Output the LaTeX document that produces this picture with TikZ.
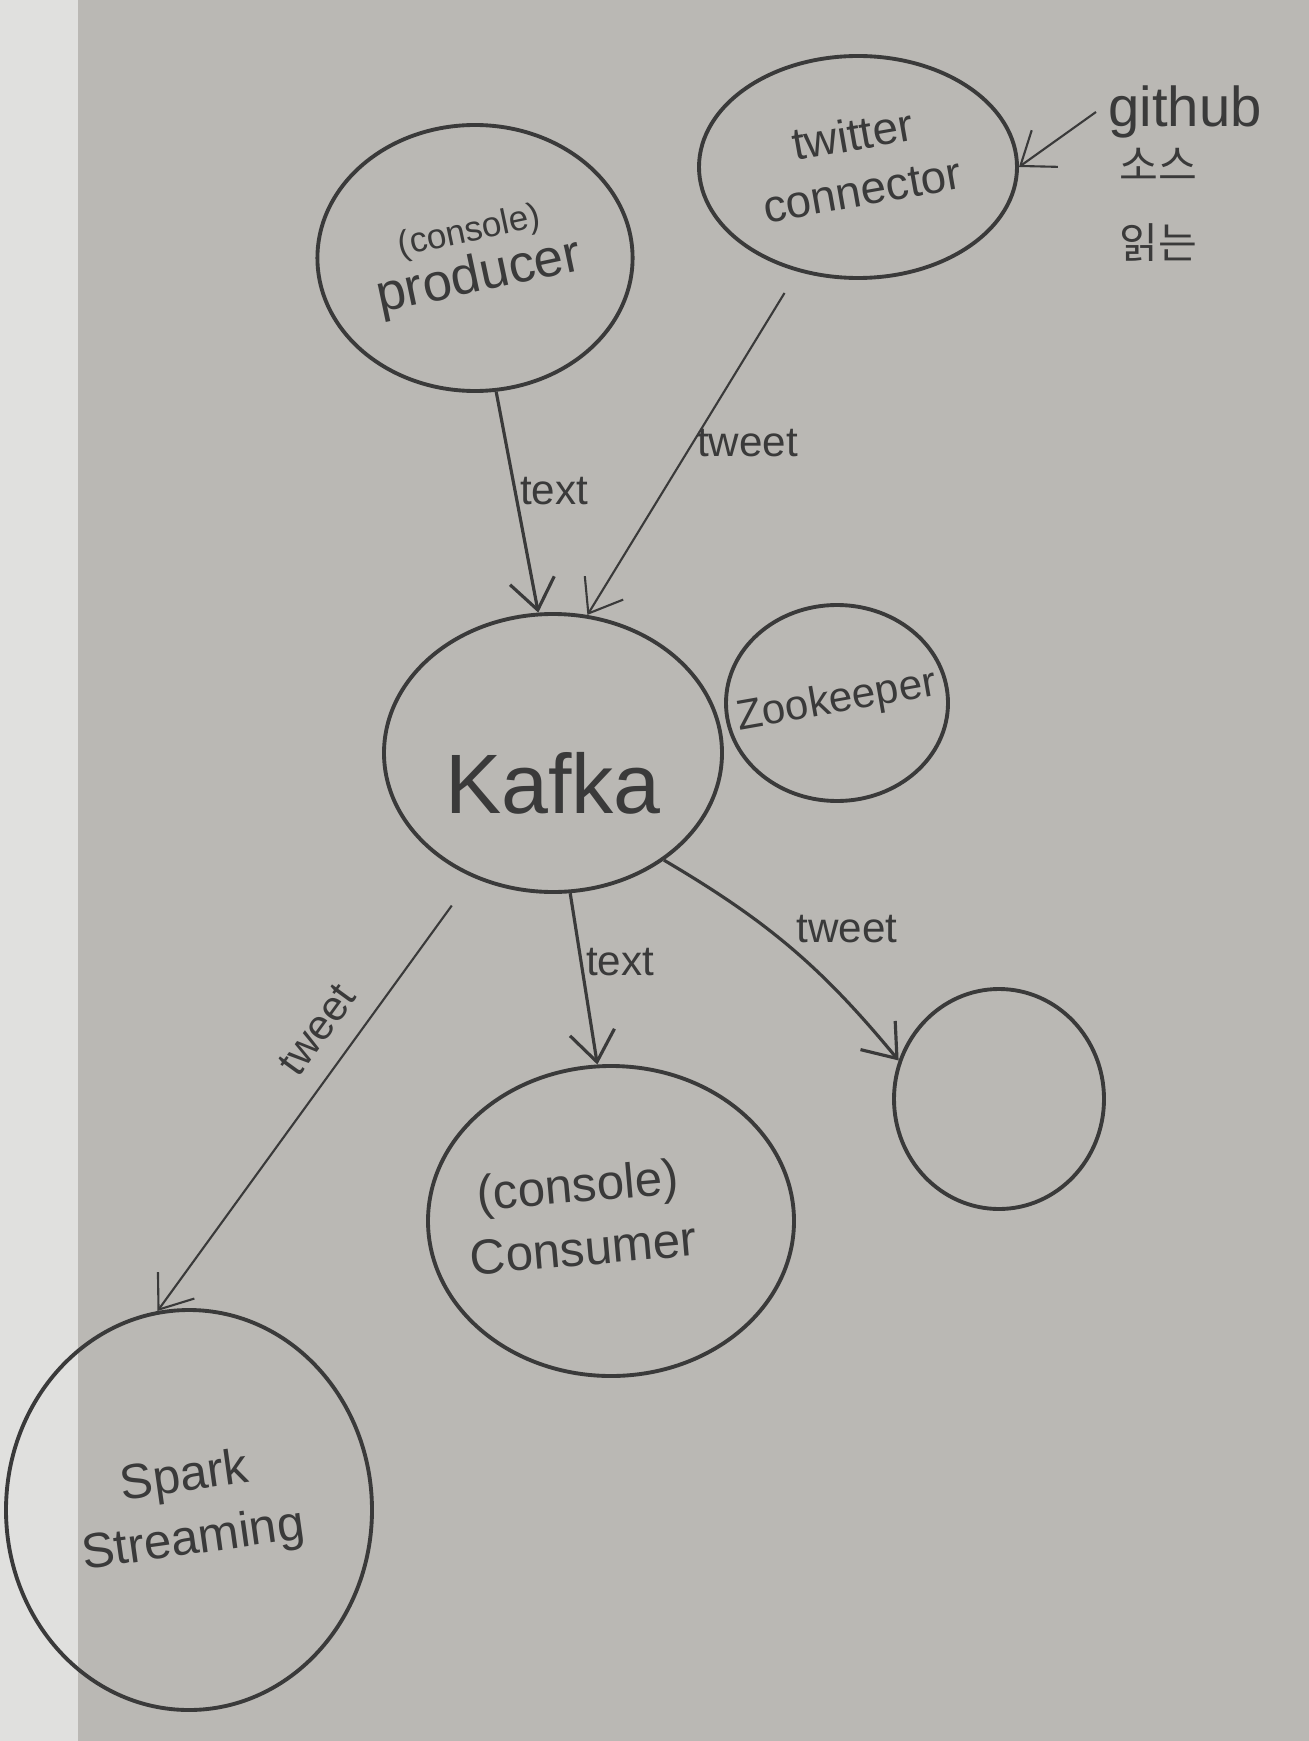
\documentclass[tikz,border=0pt]{standalone}
\usepackage{fontspec}
\setmainfont{Liberation Sans}
\newfontfamily\krfont{Noto Sans CJK KR}
\usetikzlibrary{shapes.geometric,arrows.meta}
\definecolor{board}{RGB}{186,184,180}
\definecolor{boardedge}{RGB}{224,224,222}
\definecolor{ink}{RGB}{58,58,58}
\newcommand{\tilted}[3]{\rotatebox{#1}{#2\begin{tabular}{@{}c@{}}#3\end{tabular}}}
\tikzset{
  blob/.style={ellipse,draw=ink,line width=1.1pt,text=ink,inner sep=0pt},
  flow/.style={-{Straight Barb[length=3mm,width=4.5mm]},draw=ink,line width=0.9pt},
  thinflow/.style={flow,line width=0.6pt},
  flowlabel/.style={text=ink,font=\fontsize{12}{13}\selectfont,inner sep=1pt}
}
\begin{document}
\begin{tikzpicture}
  \useasboundingbox (0,0) rectangle (13.09,-17.41);
  \fill[board] (0,0) rectangle (13.09,-17.41);
  \fill[boardedge] (0,0) rectangle (0.78,-17.41);
  % boxes
  \node[blob,minimum width=2.84cm,minimum height=2.66cm] (producer) at (4.75,-2.58)
    {\tilted{12}{}{\fontsize{10}{13}\selectfont(console)\\\fontsize{15}{17}\selectfont producer}};
  \node[blob,minimum width=3.18cm,minimum height=2.22cm] (twitter) at (8.58,-1.67)
    {\tilted{10}{\fontsize{13}{16}\selectfont}{twitter\\connector}};
  \node[text=ink,font=\fontsize{16}{19}\selectfont] (github) at (11.85,-1.12) {github};
  \node[text=ink,font=\fontsize{12}{22}\krfont,align=center] (source) at (11.58,-2.05) {소스\\읽는};
  \node[blob,minimum width=3.38cm,minimum height=2.78cm] (kafka) at (5.53,-7.53)
    {\fontsize{24}{26}\selectfont\raisebox{-0.3cm}[\height][\depth]{Kafka}};
  \node[blob,inner sep=-0.45cm,minimum width=2.22cm,minimum height=1.96cm] (zookeeper) at (8.37,-7.03)
    {\tilted{10}{\fontsize{12}{14}\selectfont}{Zookeeper}};
  \node[blob,minimum width=3.66cm,minimum height=3.1cm] (consumer) at (6.11,-12.21)
    {\makebox[0pt]{\tilted{5}{\fontsize{14}{18}\selectfont}{(console)\\Consumer}\hspace*{0.6cm}}};
  \node[blob,minimum width=2.1cm,minimum height=2.2cm] (sink) at (9.99,-10.99) {};
  \node[blob,minimum width=3.66cm,minimum height=4.0cm] (spark) at (1.89,-15.1)
    {\tilted{8}{\fontsize{14}{18}\selectfont}{Spark\\Streaming}};
  % arrows
  \draw[thinflow] (github.west) -- (twitter.east);
  \draw[flow] (producer.-81) -- node[flowlabel,right,pos=0.45]{text} (kafka.96);
  \draw[thinflow,shorten <=2.5mm] (twitter.-120) -- node[flowlabel,right,pos=0.5]{tweet} (kafka.76);
  \draw[flow] (kafka.-83) -- node[flowlabel,right,pos=0.4]{text} (consumer.95);
  \draw[flow] (kafka.-44) to[bend left=10] node[flowlabel,above right,pos=0.5]{tweet} (sink.159);
  \draw[thinflow,shorten <=3.5mm] (kafka.-123) -- node[flowlabel,sloped,above=5pt,pos=0.4]{tweet} (spark.99);
\end{tikzpicture}
\end{document}
